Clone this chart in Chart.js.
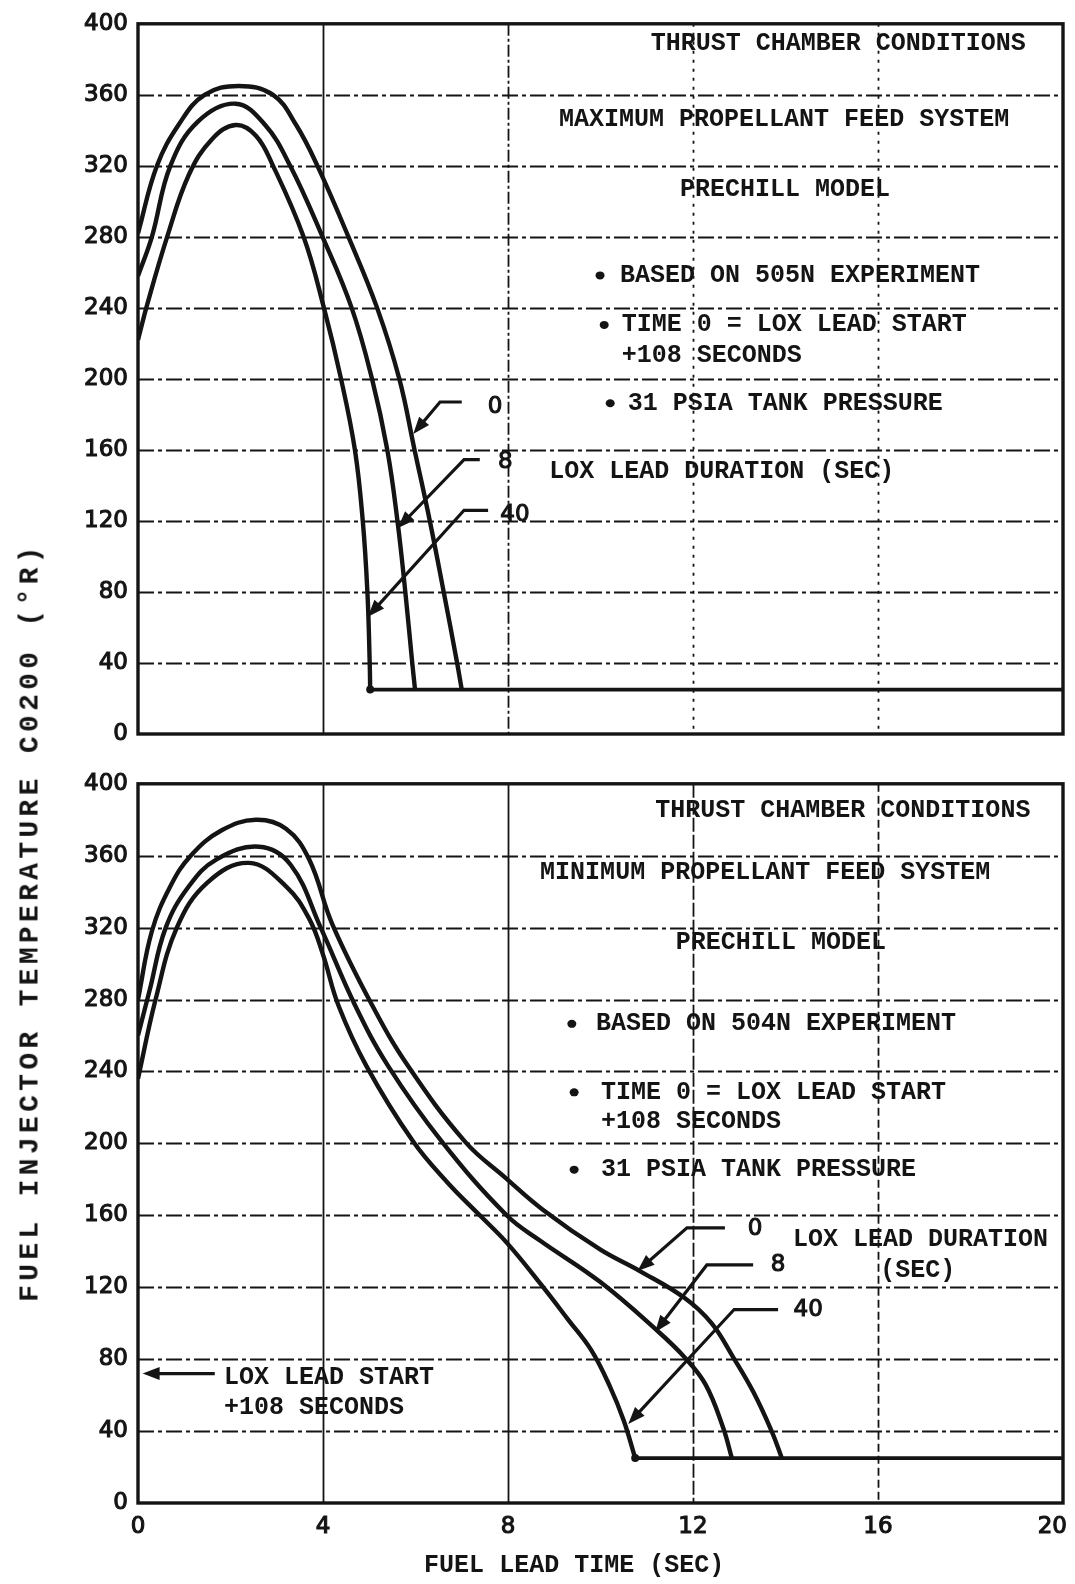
<!DOCTYPE html>
<html>
<head>
<meta charset="utf-8">
<script src="https://cdn.jsdelivr.net/npm/chart.js@4.4.1/dist/chart.umd.min.js"></script>
<style>
  html, body { margin: 0; padding: 0; background: #fff; }
  #wrap { position: relative; width: 1075px; height: 1584px; overflow: hidden; background: #fff; }
  canvas { position: absolute; left: 0; }
  #ytitle {
    position: absolute; left: 30px; top: 922px;
    transform: translate(-50%, -50%) rotate(-90deg);
    white-space: nowrap; color: #141414;
    font: bold 28px "Liberation Mono", monospace; letter-spacing: 4.3px;
  }
</style>
</head>
<body>
<div id="wrap">
  <canvas id="topChart" width="1075" height="760" style="top:0;width:1075px;height:760px"></canvas>
  <canvas id="botChart" width="1075" height="824" style="top:760px;width:1075px;height:824px"></canvas>
  <div id="ytitle">FUEL INJECTOR TEMPERATURE C0200 (°R)</div>
</div>
<script>
// ---------------- data ----------------
const xTicks = [0, 4, 8, 12, 16, 20];
const yTicks = [0, 40, 80, 120, 160, 200, 240, 280, 320, 360, 400];
const leadDurations = ['0', '8', '40'];   // LOX lead duration (sec)

// Top panel: maximum propellant feed system
const maxX_0  = [0, 0.41, 0.9, 1.44, 2.18, 2.92, 3.42, 3.88, 4.55, 5.17, 5.65, 5.98, 6.31, 6.61, 6.9, 7.0];
const maxY_0  = [282, 320, 344, 360, 365, 360, 343, 320, 280, 240, 200, 160, 120, 80, 40, 25];
const maxX_8  = [0, 0.3, 0.7, 1.3, 2.11, 2.75, 3.29, 3.99, 4.62, 5.06, 5.39, 5.61, 5.78, 5.93, 5.99];
const maxY_8  = [258, 280, 320, 345, 355, 343, 320, 280, 240, 200, 160, 120, 80, 40, 25];
const maxX_40 = [0, 0.2, 0.63, 1.1, 1.6, 2.11, 2.55, 2.92, 3.58, 4.02, 4.39, 4.69, 4.86, 4.96, 5.01, 5.02];
const maxY_40 = [222, 242, 280, 315, 335, 343, 337, 320, 280, 240, 200, 160, 120, 80, 40, 25];
const maxFloorX = [5.02, 20];
const maxFloorY = [25, 25];

// Bottom panel: minimum propellant feed system
const minX_0  = [0, 0.3, 0.7, 1.14, 1.8, 2.55, 3.2, 3.7, 4.2, 5.06, 5.84, 7.07, 7.94, 8.76, 9.99, 10.85, 11.82, 12.4, 12.87, 13.3, 13.7, 13.92];
const minY_0  = [280, 318, 343, 360, 374, 380, 375, 358, 322, 277, 243, 201, 181, 163, 141, 129, 114, 100, 81, 62, 40, 25];
const minX_8  = [0, 0.25, 0.6, 1.1, 1.7, 2.62, 3.3, 3.95, 4.69, 5.41, 6.57, 7.97, 8.69, 9.99, 11.22, 11.82, 12.27, 12.65, 12.84];
const minY_8  = [260, 285, 320, 343, 358, 365, 355, 320, 277, 243, 201, 160, 146, 123, 96, 81, 66, 42, 25];
const minX_40 = [0, 0.38, 0.84, 1.5, 2.4, 3.2, 3.7, 4.0, 4.33, 4.94, 5.95, 6.7, 7.39, 8.0, 8.73, 9.3, 9.8, 10.2, 10.5, 10.75];
const minY_40 = [236, 280, 320, 345, 356, 343, 325, 305, 277, 243, 201, 178, 160, 144, 121, 102, 85, 65, 46, 25];
const minFloorX = [10.75, 20];
const minFloorY = [25, 25];

// ---------------- styling ----------------
const INK = '#141414';
const TYPE_FONT = 'bold 25px "Liberation Mono", monospace';
const NUM_FONT = '23px "DejaVu Sans", sans-serif';

function toPts(xs, ys) { return xs.map((x, i) => ({ x: x, y: ys[i] })); }

function curve(xs, ys, label, dotAtEnd) {
  const last = xs.length - 1;
  return {
    label: label, data: toPts(xs, ys), showLine: true,
    borderColor: INK, backgroundColor: INK, borderWidth: 4.4,
    tension: 0.4,
    pointRadius: dotAtEnd ? (c => (c.dataIndex === last ? 4 : 0)) : 0,
    pointHoverRadius: 0, pointBorderWidth: 0, fill: false
  };
}
function floorLine(xs, ys) {
  return { label: 'floor', data: toPts(xs, ys), showLine: true, borderColor: INK,
           borderWidth: 3.8, tension: 0, pointRadius: 0, fill: false };
}

// grid lines drawn through the chart scales
const paperGrid = {
  id: 'paperGrid',
  beforeDatasetsDraw(chart, args, o) {
    const { ctx, chartArea: a, scales: { x, y } } = chart;
    ctx.save();
    ctx.strokeStyle = INK;
    ctx.lineWidth = 1.8;
    yTicks.forEach(v => {
      if (v === 0 || v === 400) return;
      const py = Math.round(y.getPixelForValue(v)) + 0.5;
      ctx.setLineDash(o.hDash);
      ctx.beginPath(); ctx.moveTo(a.left, py); ctx.lineTo(a.right, py); ctx.stroke();
    });
    xTicks.forEach(v => {
      if (v === 0 || v === 20) return;
      const px = Math.round(x.getPixelForValue(v)) + 0.5;
      ctx.setLineDash(o.vDash[v] || []);
      ctx.beginPath(); ctx.moveTo(px, a.top); ctx.lineTo(px, a.bottom); ctx.stroke();
    });
    ctx.setLineDash([]);
    ctx.lineWidth = 3.4;
    ctx.strokeRect(a.left, a.top, a.right - a.left, a.bottom - a.top);
    ctx.restore();
  }
};

function drawArrow(ctx, pts, lw) {
  const n = pts.length;
  const [tx, ty] = pts[n - 1];
  const [fx, fy] = pts[n - 2];
  const ang = Math.atan2(ty - fy, tx - fx);
  const L = 17, W = 6.5;
  ctx.lineWidth = lw;
  ctx.beginPath();
  ctx.moveTo(pts[0][0], pts[0][1]);
  for (let i = 1; i < n - 1; i++) ctx.lineTo(pts[i][0], pts[i][1]);
  ctx.lineTo(tx - Math.cos(ang) * (L - 2), ty - Math.sin(ang) * (L - 2));
  ctx.stroke();
  ctx.beginPath();
  ctx.moveTo(tx, ty);
  ctx.lineTo(tx - L * Math.cos(ang) + W * Math.sin(ang), ty - L * Math.sin(ang) - W * Math.cos(ang));
  ctx.lineTo(tx - L * Math.cos(ang) - W * Math.sin(ang), ty - L * Math.sin(ang) + W * Math.cos(ang));
  ctx.closePath();
  ctx.fill();
}

function numText(ctx, s, x, y) {
  ctx.lineWidth = 1.1;
  ctx.strokeText(s, x, y);
  ctx.fillText(s, x, y);
}

// notes / labels placed in data coordinates through the scales
const notes = {
  id: 'notes',
  afterDatasetsDraw(chart, args, o) {
    const { ctx, chartArea: a, scales: { x, y } } = chart;
    const px = v => x.getPixelForValue(v), py = v => y.getPixelForValue(v);
    ctx.save();
    ctx.fillStyle = INK; ctx.strokeStyle = INK;
    ctx.textBaseline = 'middle';
    ctx.lineCap = 'butt';
    (o.arrows || []).forEach(ar => drawArrow(ctx, ar.map(p => [px(p[0]), py(p[1])]), 3.2));
    (o.bullets || []).forEach(b => {
      ctx.beginPath(); ctx.ellipse(px(b[0]), py(b[1]), 4.5, 4, 0, 0, 2 * Math.PI); ctx.fill();
    });
    (o.texts || []).forEach(t => {
      ctx.font = t.font || TYPE_FONT;
      ctx.textAlign = t.align || 'left';
      if (t.font === NUM_FONT) numText(ctx, t.text, px(t.x), py(t.y));
      else ctx.fillText(t.text, px(t.x), py(t.y));
    });
    if (o.xLabels) {
      ctx.font = NUM_FONT; ctx.textAlign = 'center';
      xTicks.forEach(v => {
        const w = ctx.measureText(String(v)).width;
        const cx = Math.min(px(v), chart.width - w / 2 - 8);
        numText(ctx, String(v), cx, a.bottom + 24);
      });
    }
    if (o.xTitle) {
      ctx.font = TYPE_FONT; ctx.textAlign = 'center';
      ctx.fillText(o.xTitle.text, px(o.xTitle.x), a.bottom + 63);
    }
    ctx.restore();
  }
};

function makeChart(id, datasets, padTop, xHeight, gridOpts, noteOpts) {
  return new Chart(document.getElementById(id), {
    type: 'scatter',
    data: { datasets: datasets },
    plugins: [paperGrid, notes],
    options: {
      responsive: false, animation: false, devicePixelRatio: 1,
      layout: { padding: { left: 0, right: 12, top: padTop, bottom: 0 } },
      plugins: { legend: { display: false }, tooltip: { enabled: false },
                 paperGrid: gridOpts, notes: noteOpts },
      scales: {
        x: { type: 'linear', min: 0, max: 20,
             ticks: { display: false },
             afterBuildTicks: s => { s.ticks = xTicks.map(v => ({ value: v })); },
             grid: { display: false, drawTicks: false }, border: { display: false },
             afterFit: s => { s.height = xHeight; } },
        y: { type: 'linear', min: 0, max: 400,
             afterBuildTicks: s => { s.ticks = yTicks.map(v => ({ value: v })); },
             ticks: { padding: 10, color: INK, textStrokeColor: INK, textStrokeWidth: 1.1,
                      font: { family: 'DejaVu Sans', size: 23 } },
             grid: { display: false, drawTicks: false }, border: { display: false },
             afterFit: s => { s.width = 138; } }
      }
    }
  });
}

const hDash = [16, 4, 4, 4];

makeChart('topChart',
  [curve(maxX_0, maxY_0, leadDurations[0]), curve(maxX_8, maxY_8, leadDurations[1]),
   curve(maxX_40, maxY_40, leadDurations[2], true), floorLine(maxFloorX, maxFloorY)],
  17, 26,
  { hDash: hDash, vDash: { 4: [], 8: [12, 3, 3, 3], 12: [3, 6], 16: [3, 6] } },
  {
    texts: [
      { text: 'THRUST CHAMBER CONDITIONS', x: 15.14, y: 388.8, align: 'center' },
      { text: 'MAXIMUM PROPELLANT FEED SYSTEM', x: 13.97, y: 345.9, align: 'center' },
      { text: 'PRECHILL MODEL', x: 13.99, y: 306.8, align: 'center' },
      { text: 'BASED ON 505N EXPERIMENT', x: 10.42, y: 258.3 },
      { text: 'TIME 0 = LOX LEAD START', x: 10.46, y: 230.4 },
      { text: '+108 SECONDS', x: 10.46, y: 213.1 },
      { text: '31 PSIA TANK PRESSURE', x: 10.59, y: 186.3 },
      { text: 'LOX LEAD DURATION (SEC)', x: 8.89, y: 147.8 },
      { text: leadDurations[0], x: 7.72, y: 184.1, align: 'center', font: NUM_FONT },
      { text: leadDurations[1], x: 7.94, y: 152.9, align: 'center', font: NUM_FONT },
      { text: leadDurations[2], x: 8.15, y: 123.3, align: 'center', font: NUM_FONT }
    ],
    bullets: [[9.99, 258.3], [10.08, 230.4], [10.21, 186.3]],
    arrows: [
      [[7.0, 187], [6.53, 187], [5.95, 169]],
      [[7.39, 154.5], [7.05, 154.5], [5.62, 116]],
      [[7.57, 126], [7.05, 126], [4.97, 66]]
    ]
  });

makeChart('botChart',
  [curve(minX_0, minY_0, leadDurations[0]), curve(minX_8, minY_8, leadDurations[1]),
   curve(minX_40, minY_40, leadDurations[2], true), floorLine(minFloorX, minFloorY)],
  18, 81,
  { hDash: hDash, vDash: { 4: [], 8: [], 12: [14, 3], 16: [8, 4] } },
  {
    texts: [
      { text: 'THRUST CHAMBER CONDITIONS', x: 15.24, y: 385.1, align: 'center' },
      { text: 'MINIMUM PROPELLANT FEED SYSTEM', x: 13.56, y: 350.3, align: 'center' },
      { text: 'PRECHILL MODEL', x: 13.9, y: 311.5, align: 'center' },
      { text: 'BASED ON 504N EXPERIMENT', x: 9.9, y: 266.5 },
      { text: 'TIME 0 = LOX LEAD START', x: 10.01, y: 228.4 },
      { text: '+108 SECONDS', x: 10.01, y: 211.9 },
      { text: '31 PSIA TANK PRESSURE', x: 10.01, y: 185.4 },
      { text: leadDurations[0], x: 13.34, y: 152.3, align: 'center', font: NUM_FONT },
      { text: 'LOX LEAD DURATION', x: 14.16, y: 146.2 },
      { text: '(SEC)', x: 16.86, y: 129.1, align: 'center' },
      { text: leadDurations[1], x: 13.84, y: 132.4, align: 'center', font: NUM_FONT },
      { text: leadDurations[2], x: 14.49, y: 107.6, align: 'center', font: NUM_FONT },
      { text: 'LOX LEAD START', x: 1.86, y: 69.5 },
      { text: '+108 SECONDS', x: 1.86, y: 53 }
    ],
    bullets: [[9.38, 266.5], [9.43, 228.4], [9.43, 185.4]],
    arrows: [
      [[12.69, 153], [11.87, 153], [10.8, 129]],
      [[13.3, 132.4], [12.3, 132.4], [11.18, 95]],
      [[13.84, 107.6], [12.89, 107.6], [10.6, 44]],
      [[1.66, 72], [0.1, 72]]
    ],
    xLabels: true,
    xTitle: { text: 'FUEL LEAD TIME (SEC)', x: 9.43 }
  });
</script>
</body>
</html>
